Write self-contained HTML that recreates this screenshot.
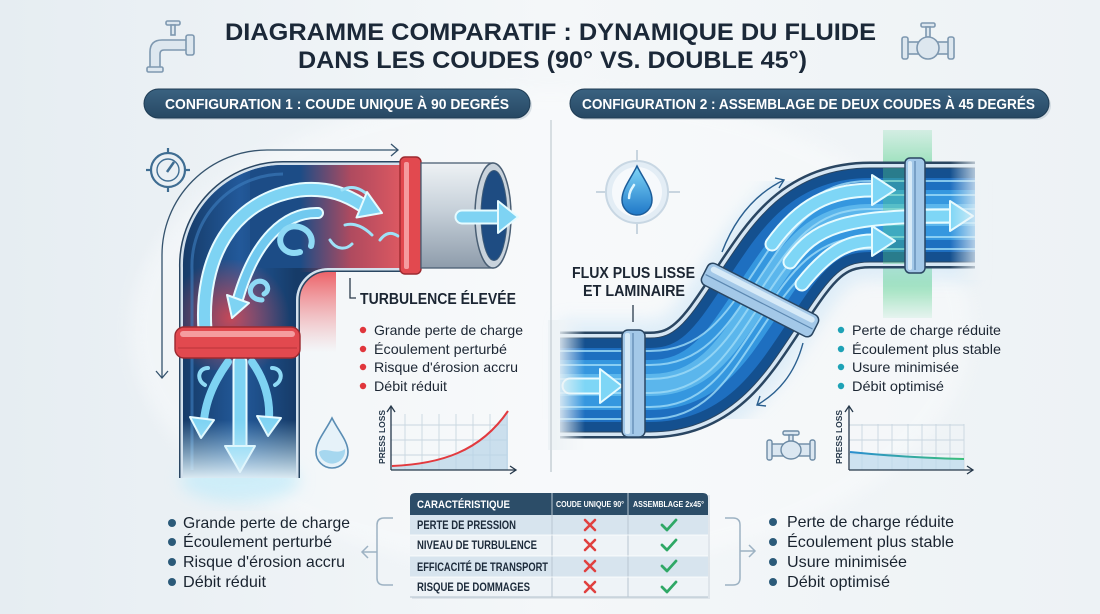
<!DOCTYPE html>
<html><head><meta charset="utf-8"><style>
html,body{margin:0;padding:0;background:#eef3f6;}
svg{display:block;font-family:"Liberation Sans",sans-serif;}
</style></head><body>
<svg width="1100" height="614" viewBox="0 0 1100 614" xmlns="http://www.w3.org/2000/svg">
<defs>
<linearGradient id="bg" x1="0" x2="1" y1="0" y2="0">
<stop offset="0" stop-color="#e6edf2"/><stop offset="0.5" stop-color="#f4f7f9"/><stop offset="1" stop-color="#edf2f5"/></linearGradient>
<linearGradient id="pill" x1="0" x2="0" y1="0" y2="1"><stop offset="0" stop-color="#3a6281"/><stop offset="1" stop-color="#274863"/></linearGradient>
<linearGradient id="redH" x1="300" x2="402" y1="0" y2="0" gradientUnits="userSpaceOnUse"><stop offset="0" stop-color="#e04a52" stop-opacity="0"/><stop offset="0.5" stop-color="#e04a52" stop-opacity="0.75"/><stop offset="1" stop-color="#e85a60" stop-opacity="0.95"/></linearGradient>
<radialGradient id="redV" cx="230" cy="318" r="60" gradientUnits="userSpaceOnUse"><stop offset="0" stop-color="#e0464e" stop-opacity="0.85"/><stop offset="1" stop-color="#e0464e" stop-opacity="0"/></radialGradient>
<linearGradient id="redOut" x1="0" x2="0" y1="268" y2="352" gradientUnits="userSpaceOnUse"><stop offset="0" stop-color="#ec5258" stop-opacity="0.95"/><stop offset="1" stop-color="#f08a8e" stop-opacity="0"/></linearGradient>
<linearGradient id="pipeL" x1="183" x2="296" y1="0" y2="0" gradientUnits="userSpaceOnUse"><stop offset="0" stop-color="#163b68"/><stop offset="0.5" stop-color="#22599a"/><stop offset="1" stop-color="#163b68"/></linearGradient>
<linearGradient id="fadeB" x1="0" x2="0" y1="420" y2="482" gradientUnits="userSpaceOnUse"><stop offset="0" stop-color="#bdeafa" stop-opacity="0"/><stop offset="1" stop-color="#eaf6fb" stop-opacity="1"/></linearGradient>
<linearGradient id="collar" x1="0" x2="0" y1="163" y2="268" gradientUnits="userSpaceOnUse"><stop offset="0" stop-color="#eef2f5"/><stop offset="0.45" stop-color="#c6d0d9"/><stop offset="1" stop-color="#8e9cab"/></linearGradient>
<linearGradient id="green" x1="0" x2="0" y1="130" y2="318" gradientUnits="userSpaceOnUse"><stop offset="0" stop-color="#5fd393" stop-opacity="0.2"/><stop offset="0.3" stop-color="#4fcf86" stop-opacity="0.75"/><stop offset="0.75" stop-color="#4fcf86" stop-opacity="0.75"/><stop offset="1" stop-color="#5fd393" stop-opacity="0.1"/></linearGradient>
<linearGradient id="fadeL" x1="555" x2="585" y1="0" y2="0" gradientUnits="userSpaceOnUse"><stop offset="0" stop-color="#eef3f6" stop-opacity="1"/><stop offset="1" stop-color="#eef3f6" stop-opacity="0"/></linearGradient>
<linearGradient id="fadeR" x1="950" x2="985" y1="0" y2="0" gradientUnits="userSpaceOnUse"><stop offset="0" stop-color="#eef3f6" stop-opacity="0"/><stop offset="1" stop-color="#eef3f6" stop-opacity="1"/></linearGradient>
<linearGradient id="drop" x1="0" x2="0" y1="168" y2="215" gradientUnits="userSpaceOnUse"><stop offset="0" stop-color="#7dd3f6"/><stop offset="1" stop-color="#1f78c8"/></linearGradient>
<linearGradient id="curveR" x1="850" x2="964" y1="0" y2="0" gradientUnits="userSpaceOnUse"><stop offset="0" stop-color="#2a8ed0"/><stop offset="1" stop-color="#3bbf7a"/></linearGradient>
<filter id="blur" x="-20%" y="-20%" width="140%" height="140%"><feGaussianBlur stdDeviation="8"/></filter>
<clipPath id="lclip"><path d="M183 478 L183 268 A100 100 0 0 1 283 165 L402 165 L402 268 L328 268 A32 32 0 0 0 296 300 L296 478 Z"/></clipPath>
</defs>

<rect width="1100" height="614" fill="url(#bg)"/>
<ellipse cx="550" cy="330" rx="420" ry="240" fill="#ffffff" opacity="0.35" filter="url(#blur)"/>

<!-- Title -->
<text x="225" y="40" font-size="24" font-weight="bold" fill="#1b2838" textLength="651" lengthAdjust="spacingAndGlyphs">DIAGRAMME COMPARATIF : DYNAMIQUE DU FLUIDE</text>
<text x="298" y="68" font-size="24" font-weight="bold" fill="#1b2838" textLength="509" lengthAdjust="spacingAndGlyphs">DANS LES COUDES (90° VS. DOUBLE 45°)</text>

<!-- Faucet icon -->
<g stroke="#7e98b0" stroke-width="1.6" fill="#dde7ef">
<rect x="166" y="21" width="14" height="4" rx="1.5"/>
<rect x="171" y="25" width="4" height="10"/>
<path d="M150 70 L150 52 Q150 40 162 40 L188 40 L188 50 L164 50 Q160 50 160 54 L160 70 Z"/>
<rect x="186" y="35" width="8" height="20" rx="2"/>
<rect x="147" y="67" width="16" height="5" rx="1.5"/>
</g>
<!-- Valve icon top right -->
<g stroke="#7e98b0" stroke-width="1.6" fill="#dde7ef">
<rect x="921" y="23" width="14" height="4" rx="1.5"/>
<rect x="926" y="27" width="4" height="10"/>
<rect x="906" y="42" width="44" height="12"/>
<ellipse cx="928" cy="48" rx="11" ry="11"/>
<rect x="902" y="37" width="6" height="22" rx="2"/>
<rect x="948" y="37" width="6" height="22" rx="2"/>
</g>

<!-- Pills -->
<rect x="146" y="91" width="386" height="29" rx="14.5" fill="#9fb0bd" opacity="0.35"/>
<rect x="144" y="89" width="386" height="29" rx="14.5" fill="url(#pill)" stroke="#1f3c54" stroke-width="1"/>
<text x="165" y="109" font-size="15" font-weight="bold" fill="#ffffff" textLength="344" lengthAdjust="spacingAndGlyphs">CONFIGURATION 1 : COUDE UNIQUE À 90 DEGRÉS</text>
<rect x="572" y="91" width="479" height="29" rx="14.5" fill="#9fb0bd" opacity="0.35"/>
<rect x="570" y="89" width="479" height="29" rx="14.5" fill="url(#pill)" stroke="#1f3c54" stroke-width="1"/>
<text x="582" y="109" font-size="15" font-weight="bold" fill="#ffffff" textLength="453" lengthAdjust="spacingAndGlyphs">CONFIGURATION 2 : ASSEMBLAGE DE DEUX COUDES À 45 DEGRÉS</text>

<!-- divider -->
<line x1="551" y1="120" x2="551" y2="472" stroke="#c2cbd2" stroke-width="1.2"/>

<!-- ============ LEFT: 90 degree elbow ============ -->
<!-- gauge icon -->
<g stroke="#3f6d92" stroke-width="2.2" fill="none">
<circle cx="168" cy="170" r="17"/>
<circle cx="168" cy="170" r="11" stroke-width="1.4"/>
<line x1="168" y1="148" x2="168" y2="153"/><line x1="168" y1="187" x2="168" y2="192"/>
<line x1="146" y1="170" x2="151" y2="170"/><line x1="185" y1="170" x2="190" y2="170"/>
<line x1="167" y1="172" x2="174" y2="162" stroke-width="2.5"/>
</g>
<!-- thin flow line -->
<path d="M162 378 L162 255 A105 105 0 0 1 267 150 L398 150" fill="none" stroke="#35536d" stroke-width="1.3"/>
<path d="M391 144 L398 150 L391 156" fill="none" stroke="#35536d" stroke-width="1.3"/>
<path d="M156 371 L162 378 L168 371" fill="none" stroke="#35536d" stroke-width="1.3"/>

<!-- red glow outside pipe -->
<rect x="298" y="268" width="38" height="86" fill="url(#redOut)"/>
<!-- glow under pipe bottom -->
<ellipse cx="240" cy="480" rx="60" ry="22" fill="#c6ecf9" opacity="0.8" filter="url(#blur)"/>

<!-- pipe body -->
<path d="M183 478 L183 268 A100 100 0 0 1 283 165 L402 165 L402 268 L328 268 A32 32 0 0 0 296 300 L296 478" fill="none" stroke="#2a4662" stroke-width="8"/>
<path d="M183 478 L183 268 A100 100 0 0 1 283 165 L402 165 L402 268 L328 268 A32 32 0 0 0 296 300 L296 478" fill="none" stroke="#d3e1ed" stroke-width="5"/>
<g clip-path="url(#lclip)">
<rect x="170" y="150" width="240" height="340" fill="url(#pipeL)"/>
<rect x="250" y="165" width="160" height="103" fill="#1c4c86"/>
<rect x="290" y="160" width="115" height="112" fill="url(#redH)"/>
<rect x="170" y="260" width="140" height="110" fill="url(#redV)"/>
<path d="M192 470 L192 270 A92 92 0 0 1 283 174" fill="none" stroke="#3d7fc0" stroke-width="3" opacity="0.6"/>
<!-- swirl arrows -->
<g fill="none" stroke-linecap="round">
<path d="M205 330 C200 260 230 200 300 190 C330 187 348 196 362 205" stroke="#e6fbff" stroke-width="15"/>
<path d="M205 330 C200 260 230 200 300 190 C330 187 348 196 362 205" stroke="#7ed3f3" stroke-width="11"/>
<path d="M318 213 C285 212 255 240 238 299" stroke="#e6fbff" stroke-width="12"/>
<path d="M318 213 C285 212 255 240 238 299" stroke="#71c9ef" stroke-width="8"/>
<path d="M300 252 C285 257 274 242 284 231 C294 220 316 230 311 246" stroke="#8fdaf5" stroke-width="6"/>
<path d="M262 300 C250 300 246 288 256 282 C266 278 272 290 264 294" stroke="#8fdaf5" stroke-width="5"/>
<path d="M342 190 C352 185 360 188 368 195" stroke="#9fe2f8" stroke-width="3"/>
<path d="M345 225 C355 222 365 228 372 235" stroke="#9fe2f8" stroke-width="3"/>
<path d="M330 240 C336 250 346 250 352 244" stroke="#9fe2f8" stroke-width="3"/>
<path d="M380 240 C386 232 392 232 398 236" stroke="#9fe2f8" stroke-width="3"/>
<path d="M240 362 L240 448" stroke="#e6fbff" stroke-width="15"/>
<path d="M240 362 L240 448" stroke="#7ed3f3" stroke-width="11"/>
<path d="M228 362 C215 380 206 400 204 420" stroke="#7ed3f3" stroke-width="8"/>
<path d="M252 362 C265 380 270 400 269 418" stroke="#7ed3f3" stroke-width="8"/>
<path d="M205 385 C196 380 198 368 208 368" stroke="#8fdaf5" stroke-width="4"/>
<path d="M275 385 C284 380 282 368 272 368" stroke="#8fdaf5" stroke-width="4"/>
</g>
<g fill="#7ed3f3" stroke="#e6fbff" stroke-width="2" stroke-linejoin="round">
<polygon points="382,213 367,192 356.5,217.5"/>
<polygon points="232,318 249,303 227,295"/>
<polygon points="240,472 225,446 255,446"/>
<polygon points="201,438 190,417 214,420"/>
<polygon points="268,436 257,416 281,418"/>
</g>
<rect x="175" y="420" width="130" height="65" fill="url(#fadeB)"/>
</g>

<!-- red flange vertical -->
<rect x="175" y="327" width="125" height="31" rx="9" fill="#e2494f" stroke="#9c2a30" stroke-width="1.4"/>
<rect x="180" y="331" width="115" height="6" rx="3" fill="#f59c9f"/>
<line x1="178" y1="348" x2="297" y2="348" stroke="#b9343a" stroke-width="1"/>
<!-- red flange horizontal -->
<rect x="400" y="157" width="21" height="117" rx="5" fill="#e2494f" stroke="#9c2a30" stroke-width="1.4"/>
<rect x="404" y="162" width="5" height="107" rx="2" fill="#f59c9f"/>
<!-- gray collar -->
<rect x="421" y="163" width="72" height="105" fill="url(#collar)" stroke="#4a5f74" stroke-width="1.3"/>
<ellipse cx="493" cy="215.5" rx="18" ry="52.5" fill="#c9d3dc" stroke="#4a5f74" stroke-width="1.5"/>
<ellipse cx="494" cy="215.5" rx="13" ry="45" fill="#1e4c82" stroke="#3c5a78" stroke-width="1"/>
<path d="M462 217 L500 217" stroke="#e6fbff" stroke-width="15" stroke-linecap="round"/>
<path d="M462 217 L500 217" stroke="#7ed3f3" stroke-width="11" stroke-linecap="round"/>
<polygon points="518,217 498,201 498,233" fill="#7ed3f3" stroke="#e6fbff" stroke-width="2" stroke-linejoin="round"/>

<!-- turbulence label -->
<path d="M350 278 L350 298 L356 298" fill="none" stroke="#2a3a4a" stroke-width="1.3"/>
<text x="360" y="304" font-size="16" font-weight="bold" fill="#1c2633" textLength="156" lengthAdjust="spacingAndGlyphs">TURBULENCE ÉLEVÉE</text>
<g fill="#e0363c"><circle cx="363" cy="330" r="3.2"/><circle cx="363" cy="349" r="3.2"/><circle cx="363" cy="367" r="3.2"/><circle cx="363" cy="386" r="3.2"/></g>
<g font-size="14" fill="#1c2633">
<text x="374" y="335" textLength="149" lengthAdjust="spacingAndGlyphs">Grande perte de charge</text>
<text x="374" y="354" textLength="133" lengthAdjust="spacingAndGlyphs">Écoulement perturbé</text>
<text x="374" y="372" textLength="144" lengthAdjust="spacingAndGlyphs">Risque d'érosion accru</text>
<text x="374" y="391" textLength="73" lengthAdjust="spacingAndGlyphs">Débit réduit</text>
</g>

<!-- droplet left -->
<path d="M332 418 C325 432 316 441 316 452 A16 16 0 0 0 348 452 C348 441 339 432 332 418 Z" fill="#e6f2f9" stroke="#5a8db4" stroke-width="1.6"/>
<path d="M319 452 C326 446 336 456 345 449 A13 13 0 0 1 319 452 Z" fill="#a6d7ef"/>

<!-- left chart -->
<g stroke="#c9d6e0" stroke-width="0.9">
<line x1="405" y1="414" x2="405" y2="470"/><line x1="422" y1="414" x2="422" y2="470"/><line x1="439" y1="414" x2="439" y2="470"/><line x1="456" y1="414" x2="456" y2="470"/><line x1="473" y1="414" x2="473" y2="470"/><line x1="490" y1="414" x2="490" y2="470"/><line x1="507" y1="414" x2="507" y2="470"/>
<line x1="391" y1="425" x2="507" y2="425"/><line x1="391" y1="440" x2="507" y2="440"/><line x1="391" y1="455" x2="507" y2="455"/>
</g>
<path d="M392 466 C440 464 480 452 508 412 L508 470 L392 470 Z" fill="#b8d4e7" opacity="0.7"/>
<path d="M392 466 C440 464 480 452 508 411" fill="none" stroke="#e23a3f" stroke-width="2"/>
<g stroke="#26384a" stroke-width="1.3" fill="none">
<path d="M391 470 L391 407"/><path d="M387 412 L391 406 L395 412"/>
<path d="M391 470 L516 470"/><path d="M510 466 L516 470 L510 474"/>
</g>
<text transform="translate(385,464) rotate(-90)" font-size="8.5" font-weight="bold" fill="#26384a" textLength="54" lengthAdjust="spacingAndGlyphs">PRESS LOSS</text>

<!-- ============ RIGHT: double 45 ============ -->
<!-- droplet icon in circle -->
<g stroke="#b9c9d6" stroke-width="1.5">
<line x1="596" y1="192" x2="606" y2="192"/><line x1="668" y1="192" x2="680" y2="192"/>
<line x1="637" y1="150" x2="637" y2="161"/><line x1="637" y1="223" x2="637" y2="234"/>
</g>
<circle cx="637" cy="192" r="31" fill="#e3edf5" stroke="#c8d7e3" stroke-width="2"/>
<circle cx="637" cy="192" r="25" fill="#f6f9fc"/>
<path d="M637 166 C630 180 622 189 622 200 A15 15 0 0 0 652 200 C652 189 644 180 637 166 Z" fill="url(#drop)" stroke="#1c5d9a" stroke-width="1.5"/>
<path d="M629 198 C629 192 632 188 634 185" fill="none" stroke="#dff6ff" stroke-width="2.5" stroke-linecap="round"/>

<!-- green band -->
<rect x="883" y="130" width="49" height="188" fill="url(#green)"/>

<!-- halo -->
<path d="M560 385 L650 385 C705 385 728 345 758 300 C790 252 812 215 870 215 L975 215" fill="none" stroke="#cfe6f7" stroke-width="130" opacity="0.6" filter="url(#blur)"/>
<!-- S pipe -->
<g fill="none">
<path d="M560 385 L650 385 C705 385 728 345 758 300 C790 252 812 215 870 215 L975 215" stroke="#2a4662" stroke-width="107"/>
<path d="M560 385 L650 385 C705 385 728 345 758 300 C790 252 812 215 870 215 L975 215" stroke="#d6e6f3" stroke-width="102"/>
<path d="M560 385 L650 385 C705 385 728 345 758 300 C790 252 812 215 870 215 L975 215" stroke="#2a4662" stroke-width="95"/>
<path d="M560 385 L650 385 C705 385 728 345 758 300 C790 252 812 215 870 215 L975 215" stroke="#14508f" stroke-width="93"/>
<path d="M560 385 L650 385 C705 385 728 345 758 300 C790 252 812 215 870 215 L975 215" stroke="#1e6fc0" stroke-width="74"/>
<path d="M560 385 L650 385 C705 385 728 345 758 300 C790 252 812 215 870 215 L975 215" stroke="#3597df" stroke-width="50"/>
<path d="M560 385 L650 385 C705 385 728 345 758 300 C790 252 812 215 870 215 L975 215" stroke="#6cc3f1" stroke-width="22" opacity="0.7"/>
<g stroke="#9fdcf8" stroke-width="2" opacity="0.8">
<path transform="translate(0,-34)" d="M560 385 L650 385 C705 385 728 345 758 300 C790 252 812 215 870 215 L975 215"/>
<path transform="translate(0,-20)" d="M560 385 L650 385 C705 385 728 345 758 300 C790 252 812 215 870 215 L975 215"/>
<path transform="translate(0,-6)" d="M560 385 L650 385 C705 385 728 345 758 300 C790 252 812 215 870 215 L975 215"/>
<path transform="translate(0,8)" d="M560 385 L650 385 C705 385 728 345 758 300 C790 252 812 215 870 215 L975 215"/>
<path transform="translate(0,22)" d="M560 385 L650 385 C705 385 728 345 758 300 C790 252 812 215 870 215 L975 215"/>
<path transform="translate(0,34)" d="M560 385 L650 385 C705 385 728 345 758 300 C790 252 812 215 870 215 L975 215"/>
</g>
</g>
<!-- green tint over pipe -->
<rect x="883" y="168" width="22" height="96" fill="#4fcf86" opacity="0.35"/>
<!-- flow arrows -->
<g fill="none" stroke-linecap="round">
<path d="M772 244 C800 205 830 190 872 190" stroke="#e6fbff" stroke-width="15"/>
<path d="M772 244 C800 205 830 190 872 190" stroke="#7ed6f6" stroke-width="11"/>
<path d="M790 262 C815 228 840 216 950 216" stroke="#e6fbff" stroke-width="15"/>
<path d="M790 262 C815 228 840 216 950 216" stroke="#7ed6f6" stroke-width="11"/>
<path d="M802 284 C826 254 846 241 872 241" stroke="#e6fbff" stroke-width="15"/>
<path d="M802 284 C826 254 846 241 872 241" stroke="#7ed6f6" stroke-width="11"/>
<path d="M570 386 L602 386" stroke="#e6fbff" stroke-width="17"/>
<path d="M570 386 L602 386" stroke="#7ed6f6" stroke-width="13"/>
</g>
<g fill="#7ed6f6" stroke="#e6fbff" stroke-width="2" stroke-linejoin="round">
<polygon points="895,190 872,175 872,205"/>
<polygon points="973,216 950,201 950,231"/>
<polygon points="895,241 872,226 872,256"/>
<polygon points="622,386 600,369 600,403"/>
</g>
<!-- fades -->
<rect x="548" y="320" width="40" height="130" fill="url(#fadeL)"/>
<rect x="948" y="150" width="40" height="130" fill="url(#fadeR)"/>
<line x1="551" y1="320" x2="551" y2="472" stroke="#c2cbd2" stroke-width="1.2"/>

<!-- flanges -->
<rect x="622" y="330" width="23" height="107" rx="6" fill="#a3c8e8" stroke="#2a4662" stroke-width="1.5"/>
<line x1="633" y1="333" x2="633" y2="434" stroke="#5b87b0" stroke-width="1.2"/>
<rect x="625" y="333" width="5" height="101" rx="2" fill="#d7eaf7"/>
<rect x="905" y="158" width="20" height="115" rx="5" fill="#a3c8e8" stroke="#2a4662" stroke-width="1.5"/>
<line x1="915" y1="161" x2="915" y2="270" stroke="#5b87b0" stroke-width="1.2"/>
<rect x="908" y="161" width="4" height="109" rx="2" fill="#d7eaf7"/>
<g transform="translate(760,300) rotate(27)">
<rect x="-62" y="-12" width="124" height="24" rx="6" fill="#a3c8e8" stroke="#2a4662" stroke-width="1.5"/>
<rect x="-58" y="-9" width="116" height="6" rx="3" fill="#d7eaf7"/>
<line x1="-60" y1="2" x2="60" y2="2" stroke="#5b87b0" stroke-width="1.2"/>
</g>

<!-- thin arrows along pipe -->
<g fill="none" stroke="#2a5f8f" stroke-width="1.4">
<path d="M722 252 Q742 200 784 180"/><path d="M775 178 L784 180 L779 188"/>
<path d="M803 343 Q792 385 757 405"/><path d="M760 396 L757 405 L766 406"/>
</g>

<!-- flux label -->
<text x="572" y="278" font-size="16" font-weight="bold" fill="#1c2633" textLength="123" lengthAdjust="spacingAndGlyphs">FLUX PLUS LISSE</text>
<text x="583" y="296" font-size="16" font-weight="bold" fill="#1c2633" textLength="102" lengthAdjust="spacingAndGlyphs">ET LAMINAIRE</text>
<line x1="633" y1="305" x2="633" y2="322" stroke="#2a3a4a" stroke-width="1.3"/>

<!-- right bullets -->
<g fill="#1ea2b6"><circle cx="841" cy="330" r="3.2"/><circle cx="841" cy="349" r="3.2"/><circle cx="841" cy="367" r="3.2"/><circle cx="841" cy="386" r="3.2"/></g>
<g font-size="14" fill="#1c2633">
<text x="852" y="335" textLength="149" lengthAdjust="spacingAndGlyphs">Perte de charge réduite</text>
<text x="852" y="354" textLength="149" lengthAdjust="spacingAndGlyphs">Écoulement plus stable</text>
<text x="852" y="372" textLength="107" lengthAdjust="spacingAndGlyphs">Usure minimisée</text>
<text x="852" y="391" textLength="92" lengthAdjust="spacingAndGlyphs">Débit optimisé</text>
</g>

<!-- valve icon small -->
<g stroke="#6d8ba5" stroke-width="1.4" fill="#dbe7f1">
<rect x="783" y="431" width="16" height="4" rx="1.5"/>
<rect x="789" y="435" width="4" height="8"/>
<rect x="771" y="444" width="40" height="12"/>
<ellipse cx="791" cy="450" rx="10" ry="9"/>
<rect x="767" y="440" width="5" height="20" rx="2"/>
<rect x="810" y="440" width="5" height="20" rx="2"/>
</g>

<!-- right chart -->
<g stroke="#c9d6e0" stroke-width="0.9">
<line x1="862" y1="424" x2="862" y2="470"/><line x1="878" y1="424" x2="878" y2="470"/><line x1="892" y1="424" x2="892" y2="470"/><line x1="908" y1="424" x2="908" y2="470"/><line x1="922" y1="424" x2="922" y2="470"/><line x1="936" y1="424" x2="936" y2="470"/><line x1="950" y1="424" x2="950" y2="470"/><line x1="964" y1="424" x2="964" y2="470"/>
<line x1="849" y1="425" x2="964" y2="425"/><line x1="849" y1="440" x2="964" y2="440"/><line x1="849" y1="454" x2="964" y2="454"/>
</g>
<path d="M850 452 C880 455 920 458 964 459 L964 470 L850 470 Z" fill="#bcd8ec" opacity="0.7"/>
<path d="M850 452 C880 455 920 458 964 459" fill="none" stroke="url(#curveR)" stroke-width="2"/>
<g stroke="#26384a" stroke-width="1.3" fill="none">
<path d="M849 470 L849 407"/><path d="M845 412 L849 406 L853 412"/>
<path d="M849 470 L973 470"/><path d="M967 466 L973 470 L967 474"/>
</g>
<text transform="translate(842,464) rotate(-90)" font-size="8.5" font-weight="bold" fill="#26384a" textLength="54" lengthAdjust="spacingAndGlyphs">PRESS LOSS</text>

<!-- ============ BOTTOM ============ -->
<g fill="#2b5a79"><circle cx="172" cy="523" r="4"/><circle cx="172" cy="542" r="4"/><circle cx="172" cy="562" r="4"/><circle cx="172" cy="582" r="4"/></g>
<g font-size="16" fill="#1a2430">
<text x="183" y="528" textLength="167" lengthAdjust="spacingAndGlyphs">Grande perte de charge</text>
<text x="183" y="547" textLength="149" lengthAdjust="spacingAndGlyphs">Écoulement perturbé</text>
<text x="183" y="567" textLength="162" lengthAdjust="spacingAndGlyphs">Risque d'érosion accru</text>
<text x="183" y="587" textLength="83" lengthAdjust="spacingAndGlyphs">Débit réduit</text>
</g>
<g fill="#2b5a79"><circle cx="773" cy="522" r="4"/><circle cx="773" cy="542" r="4"/><circle cx="773" cy="562" r="4"/><circle cx="773" cy="582" r="4"/></g>
<g font-size="16" fill="#1a2430">
<text x="787" y="527" textLength="167" lengthAdjust="spacingAndGlyphs">Perte de charge réduite</text>
<text x="787" y="547" textLength="167" lengthAdjust="spacingAndGlyphs">Écoulement plus stable</text>
<text x="787" y="567" textLength="120" lengthAdjust="spacingAndGlyphs">Usure minimisée</text>
<text x="787" y="587" textLength="103" lengthAdjust="spacingAndGlyphs">Débit optimisé</text>
</g>
<!-- brackets -->
<g fill="none" stroke="#9db2c3" stroke-width="1.5">
<path d="M393 518 L384 518 Q377 518 377 525 L377 578 Q377 585 384 585 L393 585"/>
<path d="M377 552 L362 552"/><path d="M368 546 L362 552 L368 558"/>
<path d="M725 518 L733 518 Q740 518 740 525 L740 578 Q740 585 733 585 L725 585"/>
<path d="M740 551 L755 551"/><path d="M749 545 L755 551 L749 557"/>
</g>

<!-- table -->
<rect x="412" y="495" width="298" height="104" fill="#b9c6d1" opacity="0.35"/>
<path d="M410 515 L410 498 Q410 493 415 493 L703 493 Q708 493 708 498 L708 515 Z" fill="#2c4d68"/>
<rect x="410" y="515" width="298" height="20" fill="#d7e4ee"/>
<rect x="410" y="535" width="298" height="21" fill="#eef3f7"/>
<rect x="410" y="556" width="298" height="21" fill="#d7e4ee"/>
<rect x="410" y="577" width="298" height="20" fill="#eef3f7"/>
<line x1="410" y1="597" x2="708" y2="597" stroke="#b3c2ce" stroke-width="1"/>
<line x1="552" y1="493" x2="552" y2="597" stroke="#b8c6d2" stroke-width="1"/>
<line x1="628" y1="493" x2="628" y2="597" stroke="#b8c6d2" stroke-width="1"/>
<line x1="410" y1="535" x2="708" y2="535" stroke="#ffffff" stroke-width="0.8"/>
<line x1="410" y1="556" x2="708" y2="556" stroke="#ffffff" stroke-width="0.8"/>
<line x1="410" y1="577" x2="708" y2="577" stroke="#ffffff" stroke-width="0.8"/>
<text x="417" y="508" font-size="11" font-weight="bold" fill="#ffffff" textLength="93" lengthAdjust="spacingAndGlyphs">CARACTÉRISTIQUE</text>
<text x="556" y="507" font-size="8" font-weight="bold" fill="#ffffff" textLength="68" lengthAdjust="spacingAndGlyphs">COUDE UNIQUE 90°</text>
<text x="633" y="507" font-size="8" font-weight="bold" fill="#ffffff" textLength="71" lengthAdjust="spacingAndGlyphs">ASSEMBLAGE 2x45°</text>
<g font-size="11.5" font-weight="bold" fill="#1c2a3a">
<text x="417" y="529" textLength="99" lengthAdjust="spacingAndGlyphs">PERTE DE PRESSION</text>
<text x="417" y="549" textLength="120" lengthAdjust="spacingAndGlyphs">NIVEAU DE TURBULENCE</text>
<text x="417" y="571" textLength="131" lengthAdjust="spacingAndGlyphs">EFFICACITÉ DE TRANSPORT</text>
<text x="417" y="591" textLength="113" lengthAdjust="spacingAndGlyphs">RISQUE DE DOMMAGES</text>
</g>
<g stroke="#e0403f" stroke-width="2.6" stroke-linecap="round">
<path d="M585 520 L595 530 M595 520 L585 530"/>
<path d="M585 540 L595 550 M595 540 L585 550"/>
<path d="M585 561 L595 571 M595 561 L585 571"/>
<path d="M585 582 L595 592 M595 582 L585 592"/>
</g>
<g stroke="#2fa866" stroke-width="2.8" stroke-linecap="round" stroke-linejoin="round" fill="none">
<path d="M662 525 L667 530 L676 520"/>
<path d="M662 545 L667 550 L676 540"/>
<path d="M662 566 L667 571 L676 561"/>
<path d="M662 587 L667 592 L676 582"/>
</g>
</svg>
</body></html>
